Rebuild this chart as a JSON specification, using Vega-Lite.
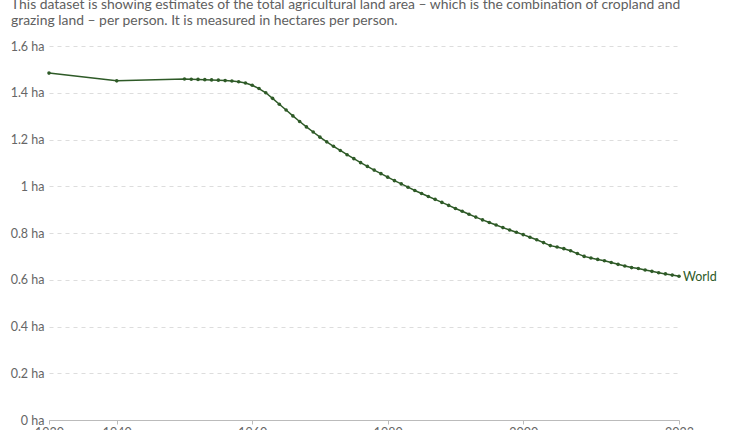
{
  "$schema": "https://vega.github.io/schema/vega-lite/v6.json",
  "width": 630,
  "height": 374,
  "autosize": "none",
  "padding": {"left": 49, "top": 46, "right": 71, "bottom": 10},
  "background": "white",
  "config": {
    "font": "Lato",
    "view": {"stroke": null}
  },
  "title": {
    "text": ["This dataset is showing estimates of the total agricultural land area – which is the combination of cropland and", "grazing land – per person. It is measured in hectares per person."],
    "anchor": "start",
    "frame": "group",
    "orient": "top",
    "dx": -38,
    "offset": 12,
    "fontSize": 13.9,
    "fontWeight": "normal",
    "color": "#606060",
    "lineHeight": 16
  },
  "data": {
    "values": [
      {"year": 1930, "value": 1.484, "entity": "World"},
      {"year": 1940, "value": 1.451, "entity": "World"},
      {"year": 1950, "value": 1.459, "entity": "World"},
      {"year": 1951, "value": 1.458, "entity": "World"},
      {"year": 1952, "value": 1.457, "entity": "World"},
      {"year": 1953, "value": 1.456, "entity": "World"},
      {"year": 1954, "value": 1.455, "entity": "World"},
      {"year": 1955, "value": 1.454, "entity": "World"},
      {"year": 1956, "value": 1.452, "entity": "World"},
      {"year": 1957, "value": 1.450, "entity": "World"},
      {"year": 1958, "value": 1.447, "entity": "World"},
      {"year": 1959, "value": 1.442, "entity": "World"},
      {"year": 1960, "value": 1.432, "entity": "World"},
      {"year": 1961, "value": 1.418, "entity": "World"},
      {"year": 1962, "value": 1.400, "entity": "World"},
      {"year": 1963, "value": 1.376, "entity": "World"},
      {"year": 1964, "value": 1.351, "entity": "World"},
      {"year": 1965, "value": 1.326, "entity": "World"},
      {"year": 1966, "value": 1.301, "entity": "World"},
      {"year": 1967, "value": 1.277, "entity": "World"},
      {"year": 1968, "value": 1.254, "entity": "World"},
      {"year": 1969, "value": 1.232, "entity": "World"},
      {"year": 1970, "value": 1.210, "entity": "World"},
      {"year": 1971, "value": 1.190, "entity": "World"},
      {"year": 1972, "value": 1.171, "entity": "World"},
      {"year": 1973, "value": 1.153, "entity": "World"},
      {"year": 1974, "value": 1.135, "entity": "World"},
      {"year": 1975, "value": 1.118, "entity": "World"},
      {"year": 1976, "value": 1.101, "entity": "World"},
      {"year": 1977, "value": 1.085, "entity": "World"},
      {"year": 1978, "value": 1.069, "entity": "World"},
      {"year": 1979, "value": 1.054, "entity": "World"},
      {"year": 1980, "value": 1.039, "entity": "World"},
      {"year": 1981, "value": 1.024, "entity": "World"},
      {"year": 1982, "value": 1.010, "entity": "World"},
      {"year": 1983, "value": 0.996, "entity": "World"},
      {"year": 1984, "value": 0.982, "entity": "World"},
      {"year": 1985, "value": 0.969, "entity": "World"},
      {"year": 1986, "value": 0.956, "entity": "World"},
      {"year": 1987, "value": 0.944, "entity": "World"},
      {"year": 1988, "value": 0.931, "entity": "World"},
      {"year": 1989, "value": 0.918, "entity": "World"},
      {"year": 1990, "value": 0.905, "entity": "World"},
      {"year": 1991, "value": 0.893, "entity": "World"},
      {"year": 1992, "value": 0.880, "entity": "World"},
      {"year": 1993, "value": 0.868, "entity": "World"},
      {"year": 1994, "value": 0.856, "entity": "World"},
      {"year": 1995, "value": 0.845, "entity": "World"},
      {"year": 1996, "value": 0.834, "entity": "World"},
      {"year": 1997, "value": 0.823, "entity": "World"},
      {"year": 1998, "value": 0.813, "entity": "World"},
      {"year": 1999, "value": 0.803, "entity": "World"},
      {"year": 2000, "value": 0.793, "entity": "World"},
      {"year": 2001, "value": 0.782, "entity": "World"},
      {"year": 2002, "value": 0.771, "entity": "World"},
      {"year": 2003, "value": 0.759, "entity": "World"},
      {"year": 2004, "value": 0.746, "entity": "World"},
      {"year": 2005, "value": 0.740, "entity": "World"},
      {"year": 2006, "value": 0.733, "entity": "World"},
      {"year": 2007, "value": 0.724, "entity": "World"},
      {"year": 2008, "value": 0.712, "entity": "World"},
      {"year": 2009, "value": 0.700, "entity": "World"},
      {"year": 2010, "value": 0.693, "entity": "World"},
      {"year": 2011, "value": 0.687, "entity": "World"},
      {"year": 2012, "value": 0.681, "entity": "World"},
      {"year": 2013, "value": 0.674, "entity": "World"},
      {"year": 2014, "value": 0.666, "entity": "World"},
      {"year": 2015, "value": 0.659, "entity": "World"},
      {"year": 2016, "value": 0.652, "entity": "World"},
      {"year": 2017, "value": 0.648, "entity": "World"},
      {"year": 2018, "value": 0.642, "entity": "World"},
      {"year": 2019, "value": 0.636, "entity": "World"},
      {"year": 2020, "value": 0.630, "entity": "World"},
      {"year": 2021, "value": 0.625, "entity": "World"},
      {"year": 2022, "value": 0.620, "entity": "World"},
      {"year": 2023, "value": 0.615, "entity": "World"}
    ]
  },
  "encoding": {
    "x": {
      "field": "year",
      "type": "quantitative",
      "scale": {"domain": [1930, 2023], "nice": false, "zero": false},
      "axis": {
        "title": null,
        "values": [1930, 1940, 1960, 1980, 2000, 2023],
        "format": "d",
        "grid": false,
        "domainColor": "#bbbbbb",
        "tickColor": "#bbbbbb",
        "tickSize": 4,
        "labelPadding": 2,
        "labelFontSize": 12.5,
        "labelColor": "#666666",
        "labelFlush": false
      }
    },
    "y": {
      "field": "value",
      "type": "quantitative",
      "scale": {"domain": [0, 1.6], "nice": false},
      "axis": {
        "title": null,
        "values": [0, 0.2, 0.4, 0.6, 0.8, 1, 1.2, 1.4, 1.6],
        "labelExpr": "datum.value + ' ha'",
        "domain": false,
        "ticks": false,
        "gridColor": "#dddddd",
        "gridDash": [4, 4],
        "labelFontSize": 12.5,
        "labelColor": "#666666",
        "labelPadding": 5
      }
    }
  },
  "layer": [
    {
      "mark": {"type": "line", "color": "#2e5a27", "strokeWidth": 1.5, "point": {"filled": true, "size": 13, "color": "#2e5a27"}}
    },
    {
      "transform": [{"filter": "datum.year == 2023"}],
      "mark": {"type": "text", "align": "left", "baseline": "middle", "dx": 4, "dy": 1, "fontSize": 12.5, "color": "#2e5a27"},
      "encoding": {"text": {"field": "entity"}}
    }
  ]
}
